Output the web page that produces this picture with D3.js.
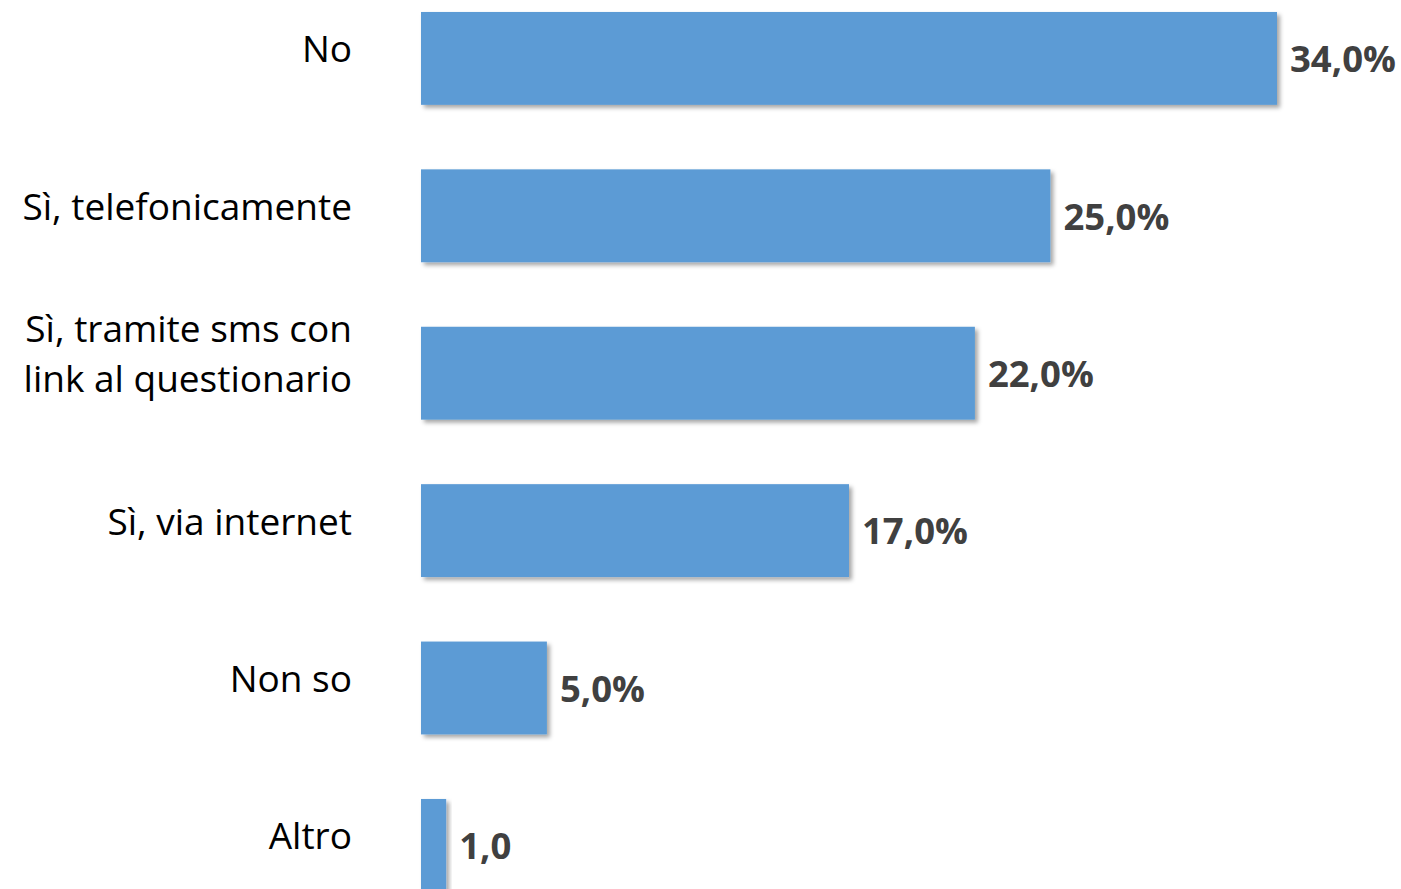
<!DOCTYPE html>
<html><head><meta charset="utf-8">
<script src="https://cdn.jsdelivr.net/npm/d3@7"></script>
<style>html,body{margin:0;padding:0;background:#fff;overflow:hidden}</style>
</head><body>
<svg id="c" width="1401" height="889"></svg>
<script>
const categories = [["No"], ["Sì, telefonicamente"], ["Sì, tramite sms con", "link al questionario"], ["Sì, via internet"], ["Non so"], ["Altro"]];
const values = [34, 25, 22, 17, 5, 1];
const valueLabels = ["34,0%", "25,0%", "22,0%", "17,0%", "5,0%", "1,0"];

const svg = d3.select("#c");
const defs = svg.append("defs");
const f = defs.append("filter").attr("id","sh").attr("x","-10%").attr("y","-10%").attr("width","130%").attr("height","130%");
f.append("feDropShadow").attr("dx",3).attr("dy",3).attr("stdDeviation",2).attr("flood-color","#000").attr("flood-opacity",0.35);

const keys = categories.map((d,i)=>i);
const y = d3.scaleBand().domain(keys).range([-20.3, 924.1]).paddingInner(0.41).paddingOuter(0.205);
const x = d3.scaleLinear().domain([0, 34]).range([421, 1277]);

svg.selectAll("rect.bar").data(values).join("rect").attr("class","bar")
  .attr("x", x(0)).attr("y",(d,i)=>y(i)).attr("width",d=>x(d)-x(0)).attr("height",y.bandwidth())
  .attr("fill","#5b9bd5").attr("filter","url(#sh)");

svg.selectAll("text.val").data(values).join("text").attr("class","val")
  .attr("x",d=>x(d)+13).attr("y",(d,i)=>y(i)+y.bandwidth()/2+4)
  .attr("dominant-baseline","middle")
  .attr("font-family","'Open Sans', Lato, sans-serif").attr("font-weight","bold").attr("font-size",36.5)
  .attr("fill","#404040").text((d,i)=>valueLabels[i]);

const lab = svg.selectAll("text.cat").data(categories).join("text").attr("class","cat")
  .attr("text-anchor","end")
  .attr("font-family","'Open Sans', Lato, sans-serif").attr("font-size",37).attr("fill","#000");
lab.each(function(lines,i){
  const t = d3.select(this);
  const cy = y(i)+y.bandwidth()/2 + (lines.length>1 ? -16 : -6);
  const lh = 50;
  lines.forEach((l,j)=>{
    t.append("tspan").attr("x",352).attr("y", cy + (j-(lines.length-1)/2)*lh).attr("dominant-baseline","middle").text(l);
  });
});
</script>
</body></html>
